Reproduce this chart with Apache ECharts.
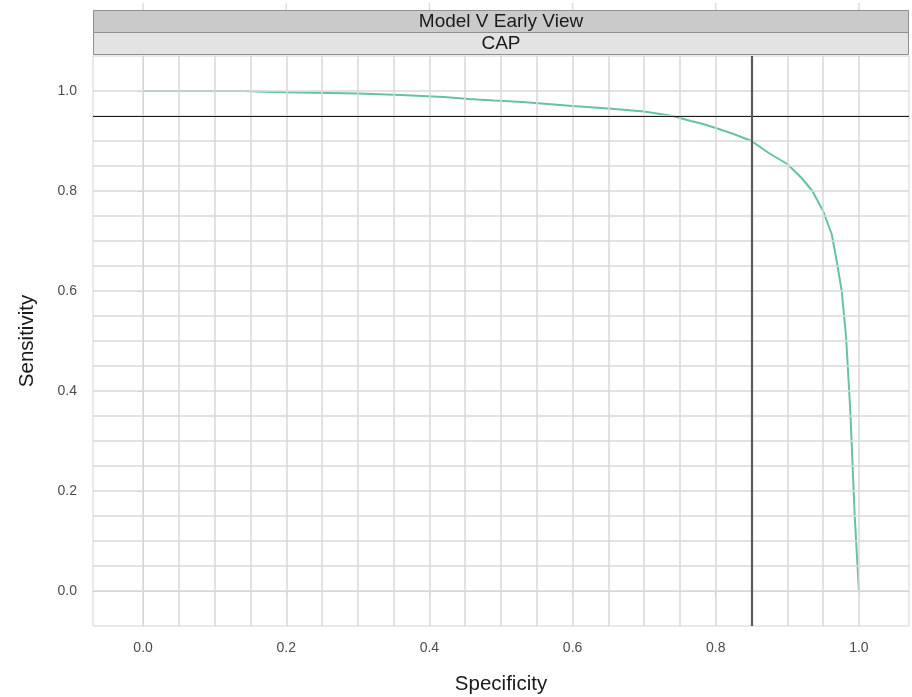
<!DOCTYPE html>
<html><head><meta charset="utf-8">
<script src="https://cdn.jsdelivr.net/npm/echarts@6/dist/echarts.min.js"></script>
<style>html,body{margin:0;padding:0;background:#fff}#c{width:912px;height:697px}</style>
</head><body><div id="c"></div>
<script>
// Data
const specificity = [0, 0.14, 0.18, 0.30, 0.36, 0.42, 0.455, 0.49, 0.53, 0.60, 0.65, 0.70, 0.74, 0.765, 0.78, 0.80, 0.825, 0.85, 0.875, 0.90, 0.92, 0.935, 0.95, 0.962, 0.969, 0.976, 0.982, 0.988, 0.994, 1.0];
const sensitivity = [1.0, 1.0, 0.998, 0.995, 0.992, 0.988, 0.984, 0.981, 0.978, 0.970, 0.965, 0.959, 0.950, 0.940, 0.935, 0.926, 0.914, 0.900, 0.875, 0.854, 0.826, 0.800, 0.760, 0.714, 0.660, 0.600, 0.510, 0.360, 0.155, 0.0];
const xTicks = [0, 0.2, 0.4, 0.6, 0.8, 1.0];
const yTicks = [0, 0.2, 0.4, 0.6, 0.8, 1.0];
const gridValues = [0,0.05,0.1,0.15,0.2,0.25,0.3,0.35,0.4,0.45,0.5,0.55,0.6,0.65,0.7,0.75,0.8,0.85,0.9,0.95,1.0];
const hLineY = 0.95;
const vLineX = 0.85;
const stripTitle1 = "Model V Early View";
const stripTitle2 = "CAP";

const FONT = "'Liberation Sans', Arial, Helvetica, sans-serif";
const chart = echarts.init(document.getElementById('c'), null, {renderer: 'canvas'});
const GL = 93, GR = 909, GT = 56, GB = 626;

const gridMarks = [];
gridValues.forEach(v => { gridMarks.push({xAxis: v}); gridMarks.push({yAxis: v}); });

chart.setOption({
  animation: false,
  backgroundColor: '#ffffff',
  grid: {left: GL, right: 912 - GR, top: GT, bottom: 697 - GB, outerBoundsMode: 'none', containLabel: false, show: true, borderColor: '#d4d4d4', borderWidth: 1, backgroundColor: 'transparent'},
  xAxis: {
    type: 'value', min: -0.07, max: 1.07,
    name: 'Specificity', nameLocation: 'middle', nameGap: 48,
    nameTextStyle: {fontFamily: FONT, fontSize: 20.5, color: '#1a1a1a'},
    splitLine: {show: false},
    axisLine: {show: true, lineStyle: {color: '#d4d4d4', width: 1}},
    axisTick: {show: true, customValues: xTicks, length: 6, lineStyle: {color: '#cfcfcf', width: 1}},
    axisLabel: {customValues: xTicks, formatter: v => v.toFixed(1), fontFamily: FONT, fontSize: 14, color: '#4d4d4d', margin: 15}
  },
  yAxis: {
    type: 'value', min: -0.07, max: 1.07,
    name: 'Sensitivity', nameLocation: 'middle', nameGap: 55, nameRotate: 90,
    nameTextStyle: {fontFamily: FONT, fontSize: 20.5, color: '#1a1a1a'},
    splitLine: {show: false},
    axisLine: {show: true, lineStyle: {color: '#d4d4d4', width: 1}},
    axisTick: {show: true, customValues: yTicks, length: 6, lineStyle: {color: '#cfcfcf', width: 1}},
    axisLabel: {customValues: yTicks, formatter: v => v.toFixed(1), fontFamily: FONT, fontSize: 14, color: '#4d4d4d', margin: 16}
  },
  series: [
    {
      type: 'line', data: [], z: 1, silent: true,
      markLine: {silent: true, symbol: 'none', label: {show: false}, animation: false,
        lineStyle: {color: '#d9d9d9', width: 1.5, type: 'solid'}, data: gridMarks}
    },
    {
      type: 'line', z: 3, silent: true, showSymbol: false, symbol: 'none',
      data: specificity.map((x, i) => [x, sensitivity[i]]),
      lineStyle: {color: '#66c2a5', width: 2}
    },
    {
      type: 'line', data: [], z: 4, silent: true,
      markLine: {silent: true, symbol: 'none', label: {show: false}, animation: false,
        data: [
          {yAxis: hLineY, lineStyle: {color: '#1a1a1a', width: 1.2, type: 'solid'}},
          {xAxis: vLineX, lineStyle: {color: '#5a5a5a', width: 2.2, type: 'solid'}}
        ]}
    }
  ]
});

// facet strips and gridline stubs above the strips
const gfx = [];
xTicks.forEach(v => {
  const px = chart.convertToPixel({gridIndex: 0}, [v, 0])[0];
  gfx.push({type: 'line', shape: {x1: px, y1: 3, x2: px, y2: 10}, style: {stroke: '#dcdcdc', lineWidth: 1.5}, silent: true});
});
gfx.push({type: 'rect', shape: {x: GL + 0.5, y: 10.5, width: GR - GL - 1, height: 22}, style: {fill: '#cacaca', stroke: '#8f8f8f', lineWidth: 1}, silent: true});
gfx.push({type: 'rect', shape: {x: GL + 0.5, y: 32.5, width: GR - GL - 1, height: 22}, style: {fill: '#e3e3e3', stroke: '#8f8f8f', lineWidth: 1}, silent: true});
gfx.push({type: 'text', x: (GL + GR) / 2, y: 21.5, style: {text: stripTitle1, fontFamily: FONT, fontSize: 19, fill: '#1a1a1a', align: 'center', verticalAlign: 'middle'}, silent: true});
gfx.push({type: 'text', x: (GL + GR) / 2, y: 43.5, style: {text: stripTitle2, fontFamily: FONT, fontSize: 19, fill: '#1a1a1a', align: 'center', verticalAlign: 'middle'}, silent: true});
chart.setOption({graphic: gfx});
</script>
</body></html>
